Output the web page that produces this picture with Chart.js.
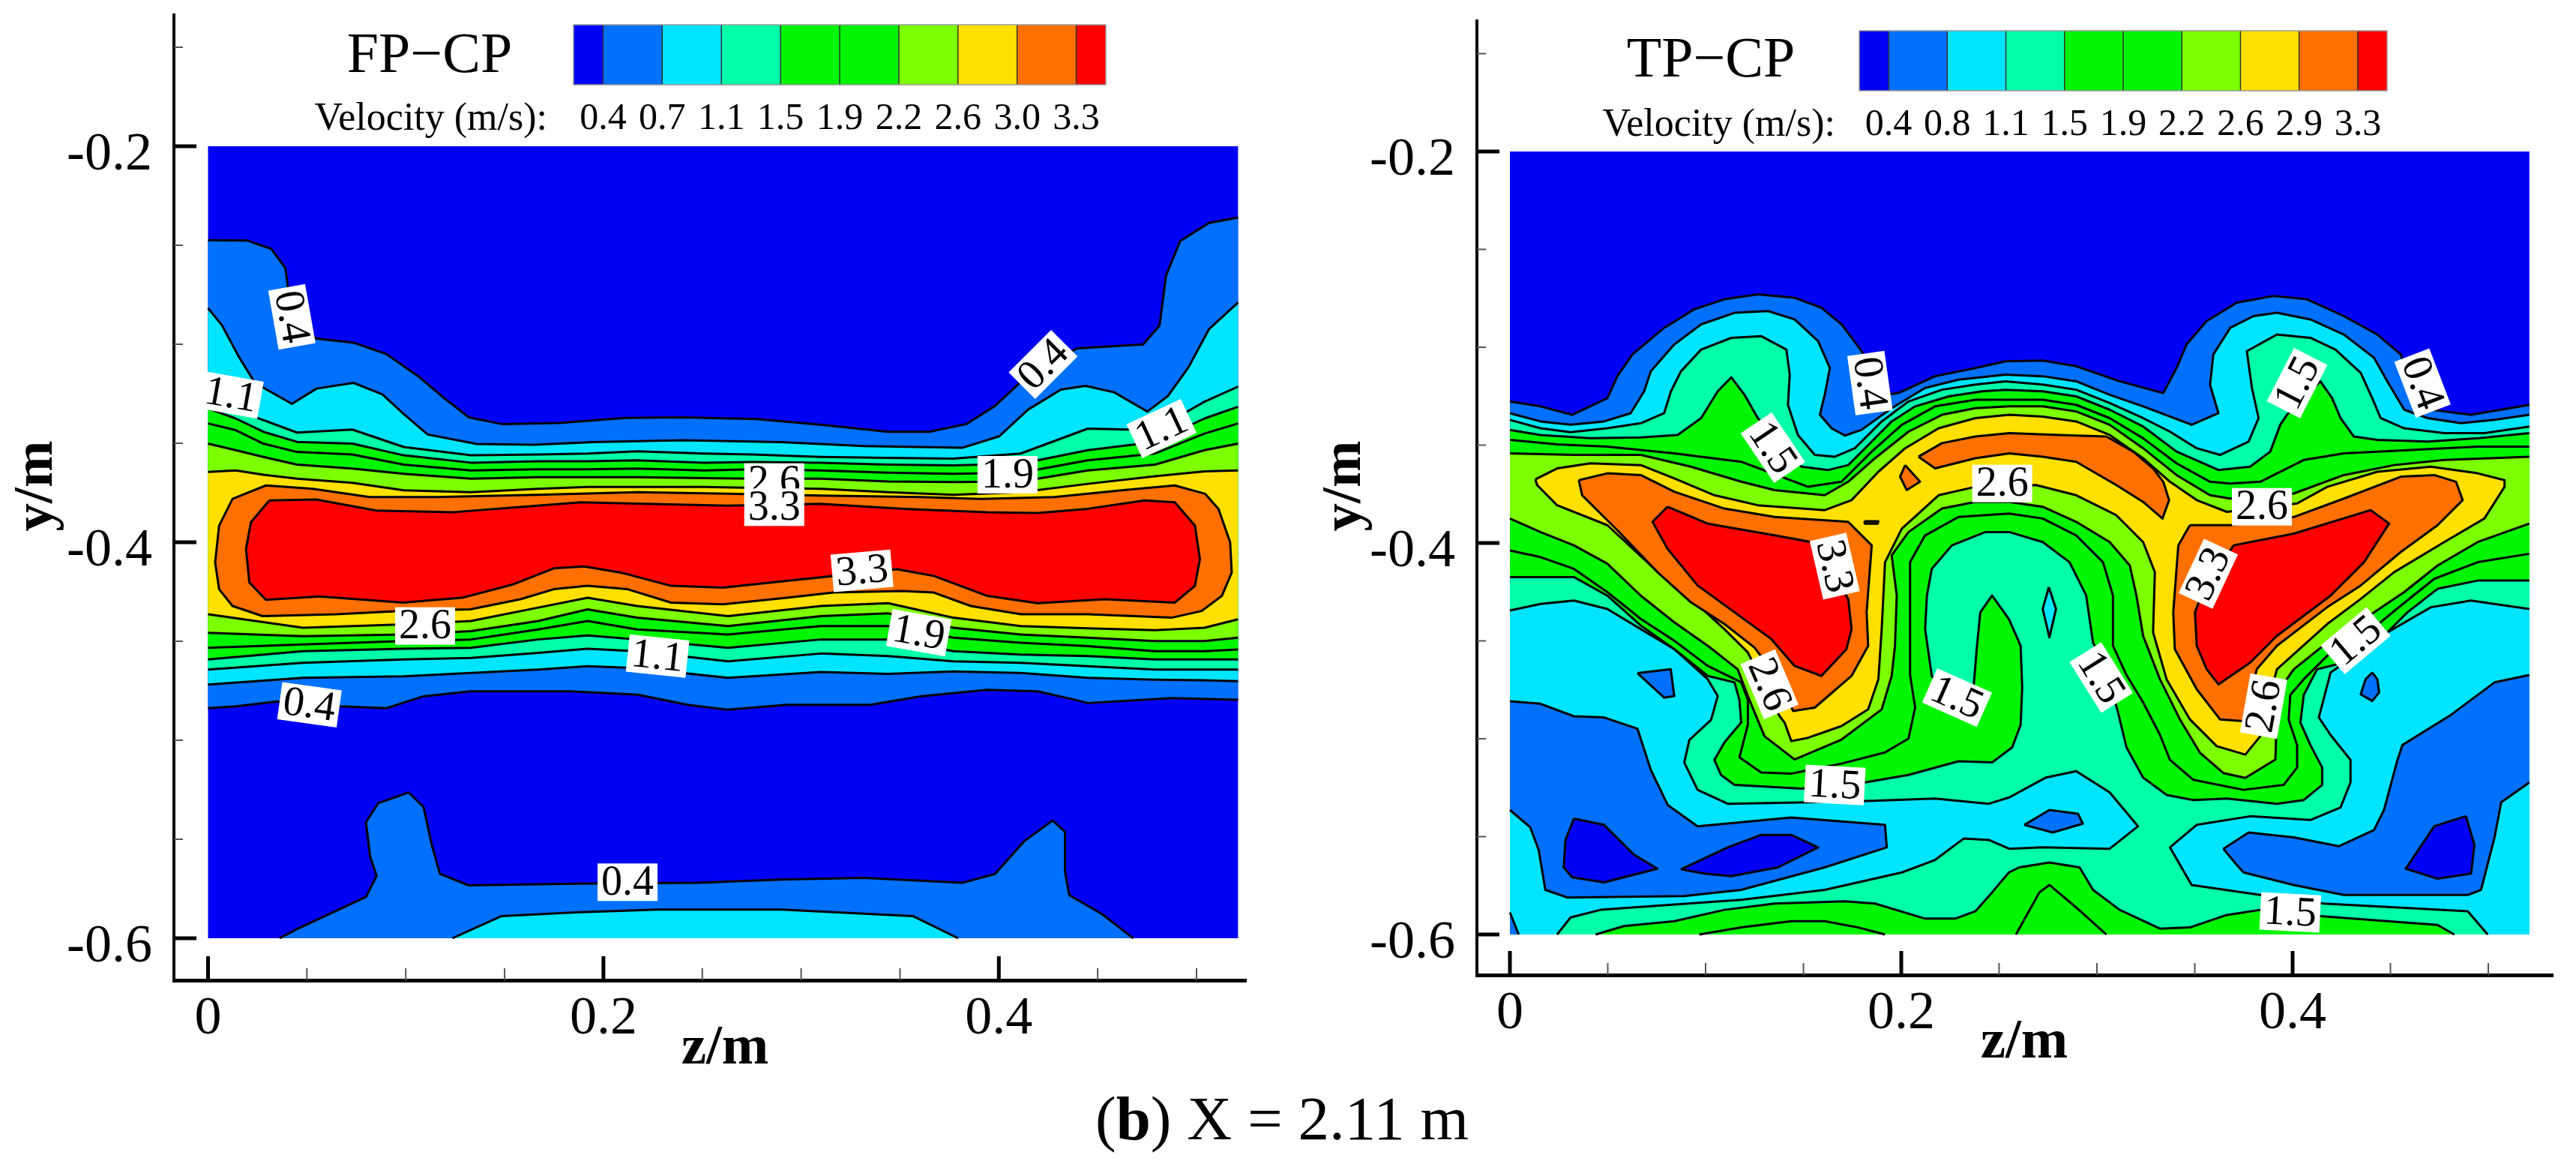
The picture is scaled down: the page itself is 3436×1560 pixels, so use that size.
<!DOCTYPE html>
<html>
<head>
<meta charset="utf-8">
<title>FP-CP / TP-CP velocity contours</title>
<script src="https://cdn.jsdelivr.net/npm/chart.js@4"></script>
<style>
html, body { margin: 0; padding: 0; background: #fff; }
canvas { position: absolute; top: 0; }
#caption { position: absolute; left: 0; top: 1450px; width: 3420px; text-align: center; font: 83px/1 "Liberation Serif", serif; color: #000; }
</style>
</head>
<body>
<canvas id="fpChart" width="1720" height="1440" style="left:0"></canvas>
<canvas id="tpChart" width="1716" height="1440" style="left:1720px"></canvas>
<div id="caption">(<b>b</b>) X = 2.11 m</div>
<script>
// axis ticks, both panels
const zTicks = [0, 0.2, 0.4];
const yTicks = [-0.6, -0.4, -0.2];
const zMinor = [0.05, 0.1, 0.15, 0.25, 0.3, 0.35, 0.45, 0.5];
const yMinor = [-0.55, -0.5, -0.45, -0.35, -0.3, -0.25, -0.15];

// band colours, below 0.4 up to above 3.3
const bandColors = ['#0000f5', '#0070ff', '#00e5ff', '#00ffa8', '#00f500', '#00f500', '#7cff00', '#ffe000', '#ff7000', '#ff0000'];
const fpLevels = ['0.4', '0.7', '1.1', '1.5', '1.9', '2.2', '2.6', '3.0', '3.3'];
const tpLevels = ['0.4', '0.8', '1.1', '1.5', '1.9', '2.2', '2.6', '2.9', '3.3'];

const plotEdge = [[0, -0.2], [0.521, -0.2], [0.521, -0.6], [0, -0.6]];

// ---- FP-CP panel, contours as [z, y] or y at shared z stations
const fpTop04 = [[0,-.2474],[.0196,-.2476],[.032,-.2518],[.0391,-.2615],[.0404,-.2711],[.0466,-.2905],[.0549,-.2972],[.0736,-.2992],[.0903,-.305],[.1069,-.3166],[.1194,-.3272],[.1319,-.3369],[.1485,-.3403],[.1776,-.3398],[.2109,-.3372],[.24,-.3369],[.2775,-.3378],[.3108,-.3407],[.344,-.3442],[.3648,-.3442],[.3836,-.3403],[.3981,-.3311],[.4106,-.3195],[.4252,-.3098],[.4397,-.3021],[.473,-.3001],[.4813,-.2905],[.4846,-.2653],[.4917,-.2479],[.5063,-.2387],[.521,-.236]];
const fpBottom04 = [[0,-.4838],[.0141,-.4829],[.0353,-.4804],[.0666,-.4829],[.0903,-.4838],[.1089,-.4778],[.1326,-.4753],[.1834,-.4753],[.2173,-.477],[.2427,-.4821],[.2627,-.4846],[.2927,-.4821],[.335,-.4821],[.3604,-.4778],[.3942,-.4745],[.4196,-.4753],[.4383,-.4795],[.445,-.4812],[.4874,-.4787],[.521,-.4795]];
const fpTop07 = [[0,-.2818],[.0071,-.2905],[.0154,-.306],[.0237,-.3195],[.0424,-.3301],[.0549,-.3224],[.0736,-.3195],[.0882,-.3253],[.0986,-.3349],[.1111,-.3456],[.136,-.3504],[.1652,-.3508],[.1943,-.3494],[.24,-.3485],[.29,-.3494],[.3316,-.3514],[.3815,-.3523],[.4002,-.3465],[.4148,-.333],[.4314,-.3229],[.4439,-.321],[.4584,-.3243],[.4751,-.334],[.4855,-.3262],[.4959,-.3117],[.5063,-.2924],[.521,-.2789]];

const fpUpperZ = [0,.014,.028,.045,.073,.099,.133,.167,.192,.217,.251,.276,.31,.344,.377,.411,.445,.479,.504,.521];
const fpUpper11 = [-.3299,-.3333,-.3383,-.3446,-.3431,-.3519,-.3561,-.3557,-.3552,-.3541,-.3552,-.3557,-.3569,-.3574,-.3578,-.3552,-.3426,-.3434,-.329,-.3214];
const fpUpper15 = [-.3324,-.3375,-.3442,-.3493,-.3502,-.3561,-.3598,-.3591,-.3591,-.3586,-.3598,-.3595,-.3598,-.3608,-.3612,-.3603,-.3535,-.3493,-.3375,-.3316];
const fpUpper19 = [-.34,-.3434,-.3502,-.3544,-.3557,-.3608,-.3637,-.3632,-.3632,-.3628,-.3637,-.3632,-.3637,-.3649,-.3654,-.3649,-.3586,-.3552,-.3451,-.34];
const fpUpper22 = [-.3502,-.3535,-.3569,-.3608,-.3628,-.3654,-.3679,-.3671,-.3671,-.3671,-.3676,-.3679,-.3679,-.3693,-.3696,-.3693,-.3637,-.3608,-.3535,-.3502];
const fpUpper26 = [-.3645,-.3637,-.3659,-.3679,-.37,-.3738,-.3747,-.373,-.3721,-.3721,-.3721,-.3725,-.373,-.3747,-.376,-.3747,-.3705,-.3667,-.3642,-.3637];

const fpLowerZ = [0,.048,.099,.133,.167,.192,.217,.263,.31,.344,.377,.411,.445,.479,.504,.521];
const fpLower07 = [-.4719,-.4685,-.4677,-.466,-.4643,-.4626,-.4635,-.4685,-.4655,-.4665,-.4652,-.466,-.4685,-.4694,-.4697,-.4702];
const fpLower11 = [-.4643,-.4609,-.4592,-.4584,-.4559,-.4538,-.455,-.4601,-.4562,-.4575,-.4601,-.4609,-.4626,-.4643,-.4643,-.4643];
const fpLower15 = [-.4592,-.455,-.4538,-.4533,-.4491,-.4471,-.4491,-.4533,-.4491,-.4491,-.455,-.4567,-.4575,-.4592,-.4592,-.4592];
const fpLower19 = [-.4533,-.4516,-.4499,-.4491,-.444,-.4398,-.444,-.4466,-.4423,-.4423,-.4482,-.4508,-.4525,-.455,-.455,-.4542];
const fpLower22 = [-.4457,-.4474,-.4466,-.4449,-.4398,-.4339,-.4381,-.4423,-.4373,-.4359,-.4432,-.4466,-.4482,-.4499,-.4499,-.4482];
const fpLower26 = [-.4364,-.4432,-.4415,-.4398,-.433,-.428,-.4322,-.4373,-.4322,-.4308,-.4381,-.4423,-.4435,-.4444,-.4432,-.4389];

const fpLoop30 = [[.0293,-.3713],[.053,-.373],[.0818,-.3772],[.1157,-.3772],[.1665,-.376],[.2173,-.3747],[.2626,-.3755],[.3096,-.3764],[.3604,-.3772],[.3909,-.3781],[.4281,-.3772],[.462,-.3738],[.489,-.3713],[.5043,-.3755],[.5111,-.3831],[.517,-.4],[.5178,-.4153],[.5128,-.4271],[.5026,-.4347],[.4874,-.4381],[.445,-.4364],[.4112,-.4364],[.3858,-.4322],[.3671,-.4254],[.3511,-.4246],[.3164,-.4254],[.2927,-.428],[.2605,-.4313],[.2342,-.4305],[.2122,-.4237],[.1919,-.422],[.1749,-.4237],[.158,-.4288],[.1326,-.4339],[.0987,-.4347],[.0649,-.4364],[.0276,-.4373],[.0124,-.4322],[.0056,-.4237],[.0036,-.4102],[.0056,-.3916],[.0124,-.3781]];
const fpLoop33 = [[.031,-.3789],[.0547,-.3784],[.0852,-.384],[.1241,-.3848],[.1665,-.3815],[.1885,-.3798],[.2626,-.3815],[.3096,-.3806],[.3519,-.3831],[.3942,-.3848],[.4196,-.3852],[.445,-.3831],[.4738,-.3789],[.489,-.3798],[.4992,-.3916],[.5017,-.4085],[.4992,-.422],[.489,-.4305],[.4535,-.4288],[.4196,-.4308],[.3942,-.4271],[.3671,-.417],[.3485,-.4136],[.3164,-.417],[.2927,-.4195],[.2605,-.4229],[.2342,-.422],[.2088,-.4153],[.1902,-.4122],[.1749,-.4132],[.1546,-.4212],[.1292,-.4279],[.0987,-.4305],[.0564,-.4274],[.0293,-.4291],[.0209,-.4203],[.0192,-.4034],[.0217,-.3899]];
const fpFloor04 = [[.0362,-.6],[.0445,-.5956],[.0612,-.5878],[.0799,-.5791],[.0853,-.5685],[.082,-.5588],[.0799,-.5414],[.0861,-.5318],[.1015,-.5264],[.109,-.5337],[.1132,-.553],[.1173,-.5675],[.1319,-.5733],[.186,-.5724],[.2484,-.572],[.29,-.5704],[.3316,-.5695],[.3815,-.572],[.3981,-.5675],[.4127,-.5511],[.4272,-.5405],[.4335,-.5463],[.4335,-.5666],[.4356,-.5782],[.4522,-.5878],[.468,-.6]];
const fpFloor07 = [[.1236,-.6],[.1485,-.5888],[.186,-.5869],[.2276,-.5855],[.29,-.5855],[.3565,-.5888],[.3794,-.6]];

// contour labels: z, y, text, rotation in degrees
const fpLabels = [
  [.0424,-.2862,'0.4',80],[.0116,-.3256,'1.1',10],[.1098,-.4423,'2.6',0],[.0513,-.4821,'0.4',8],
  [.2274,-.4575,'1.1',6],[.2122,-.5717,'0.4',0],[.2864,-.3696,'2.6',0],[.2864,-.3823,'3.3',0],
  [.3308,-.4144,'3.3',-5],[.4044,-.3659,'1.9',0],[.3595,-.4457,'1.9',10],[.4823,-.3426,'1.1',-25],[.4224,-.3102,'0.4',-45]
];

// ---- TP-CP panel
const tpTop04 = [[0,-.3277],[.0156,-.3302],[.0318,-.3345],[.0498,-.326],[.0549,-.3148],[.0626,-.3037],[.0788,-.2901],[.0942,-.2806],[.1096,-.2755],[.1267,-.273],[.1455,-.2747],[.1592,-.2798],[.1695,-.2883],[.1797,-.302],[.1849,-.314],[.1917,-.3243],[.1985,-.3234],[.2173,-.3148],[.2379,-.3106],[.2533,-.3072],[.2723,-.3068],[.2894,-.3097],[.3116,-.3174],[.3339,-.3234],[.3407,-.3106],[.3458,-.2986],[.3561,-.2866],[.3715,-.2772],[.3903,-.2738],[.4074,-.2755],[.4262,-.2841],[.4433,-.2935],[.4553,-.3037],[.4587,-.3157],[.4655,-.3311],[.4775,-.3328],[.4912,-.3345],[.5066,-.3319],[.521,-.3294]];
const tpTop07 = [[0,-.3337],[.0156,-.3379],[.031,-.3396],[.0481,-.3379],[.0617,-.3337],[.0686,-.3225],[.072,-.3123],[.084,-.2986],[.0977,-.2883],[.1148,-.2824],[.1319,-.2815],[.1455,-.2858],[.1575,-.2969],[.1635,-.3106],[.1609,-.3243],[.1584,-.3345],[.1644,-.3414],[.1712,-.3451],[.1797,-.3422],[.1951,-.3311],[.2122,-.3208],[.2293,-.3166],[.2533,-.314],[.2723,-.3148],[.2894,-.3174],[.3065,-.3243],[.3236,-.3302],[.3373,-.3354],[.3484,-.3396],[.3621,-.3337],[.3578,-.3191],[.3595,-.3037],[.3681,-.2901],[.38,-.2841],[.392,-.2824],[.4091,-.2858],[.4262,-.2935],[.4416,-.3054],[.4484,-.3174],[.457,-.3319],[.469,-.3362],[.4861,-.3388],[.5032,-.3371],[.521,-.3345]];
const tpTop11 = [[0,-.3371],[.0156,-.3414],[.031,-.3434],[.0498,-.3414],[.0669,-.3388],[.0788,-.3337],[.0823,-.3225],[.0874,-.3123],[.0977,-.3012],[.1131,-.2952],[.1284,-.2943],[.1413,-.3012],[.143,-.314],[.1421,-.3294],[.1472,-.3448],[.1558,-.355],[.1661,-.3559],[.1763,-.3516],[.19,-.3379],[.2037,-.3277],[.2208,-.3217],[.2379,-.3191],[.2533,-.3174],[.2723,-.3191],[.2894,-.3217],[.3065,-.3285],[.3236,-.3362],[.3373,-.3431],[.351,-.3516],[.3629,-.355],[.3775,-.3482],[.3826,-.3362],[.3792,-.3208],[.3766,-.302],[.392,-.2935],[.4091,-.2952],[.4219,-.3012],[.4348,-.3131],[.4407,-.326],[.445,-.3362],[.457,-.3414],[.4775,-.3439],[.498,-.3439],[.521,-.3405]];
const tpLake11Left = [[0,-.4345],[.0156,-.4311],[.0327,-.4294],[.0498,-.4337],[.0669,-.444],[.084,-.4542],[.1011,-.4696],[.1062,-.4782],[.1028,-.4904],[.0917,-.5006],[.0891,-.5121],[.0959,-.5261],[.1113,-.5332],[.1524,-.5325],[.1797,-.5319],[.2173,-.5306],[.2447,-.5332],[.2552,-.53],[.274,-.5198],[.2894,-.5166],[.3065,-.5274],[.321,-.5447],[.3065,-.5562],[.2723,-.5555],[.2552,-.5562],[.2447,-.5517],[.2319,-.551],[.2173,-.5619],[.2003,-.5683],[.1609,-.5772],[.1182,-.5823],[.0463,-.5874],[.031,-.5913],[.0241,-.6],[0,-.6]];
const tpLake11Right = [[.521,-.4337],[.4912,-.4294],[.4707,-.4328],[.4484,-.4457],[.4194,-.4662],[.4134,-.4891],[.4194,-.4981],[.4296,-.5108],[.4296,-.5223],[.4245,-.5351],[.4091,-.5415],[.3783,-.5396],[.351,-.544],[.3373,-.5555],[.3484,-.5747],[.3835,-.5798],[.4159,-.5842],[.4895,-.5881],[.4997,-.6],[.521,-.6]];
const tpLake07Left = [[0,-.4808],[.0156,-.4821],[.0327,-.4885],[.0481,-.4891],[.0652,-.4949],[.072,-.5159],[.0806,-.5338],[.0959,-.5447],[.1438,-.5402],[.1917,-.544],[.1926,-.5555],[.1609,-.5657],[.1182,-.5772],[.0891,-.5804],[.0293,-.5811],[.0181,-.5772],[.0147,-.5568],[.0104,-.5453],[0,-.5364]];
const tpCorner07 = [[0,-.5887],[.0045,-.6],[0,-.6]];
const tpLake07Right = [[.3646,-.5562],[.3775,-.5479],[.4006,-.5504],[.4236,-.5549],[.4416,-.5466],[.4467,-.5364],[.4536,-.5108],[.4561,-.5032],[.4809,-.4878],[.5032,-.4712],[.521,-.4674],[.521,-.5223],[.5066,-.5325],[.5032,-.5504],[.4963,-.5772],[.4895,-.5798],[.4262,-.5798],[.4006,-.5747],[.3749,-.5683],[.3715,-.5645]];
const tpIsleLeft07 = [[.0652,-.4665],[.0822,-.4645],[.084,-.4782],[.0788,-.479]];
const tpIsleCenter07 = [[.2629,-.544],[.2757,-.5364],[.2903,-.5383],[.2928,-.5434],[.2774,-.5479]];
const tpIsleRight07 = [[.4407,-.4662],[.4433,-.4696],[.4442,-.4764],[.4407,-.4807],[.4348,-.4773],[.4373,-.4696]];
const tpIsleCenter11 = [[.2754,-.4226],[.2791,-.4337],[.2757,-.4482],[.2723,-.4337]];
const tpCoreA04 = [[.0327,-.5408],[.0481,-.544],[.0635,-.5593],[.0754,-.5664],[.0481,-.5734],[.0318,-.5708],[.0275,-.5657],[.0284,-.5517]];
const tpCoreB04 = [[.0874,-.5667],[.1113,-.5555],[.1284,-.5491],[.1438,-.5491],[.1575,-.5555],[.137,-.5657],[.113,-.5702],[.0994,-.5689]];
const tpCoreC04 = [[.4886,-.5395],[.4929,-.5542],[.4912,-.5689],[.4741,-.5715],[.4578,-.5664],[.4724,-.5447]];
const tpFloor15 = [[.0438,-.6],[.0583,-.5957],[.084,-.5932],[.1096,-.5874],[.1353,-.5842],[.1712,-.583],[.1866,-.5842],[.2122,-.5919],[.2276,-.5919],[.2379,-.5881],[.2464,-.5785],[.255,-.5683],[.2603,-.5657],[.2757,-.5632],[.2911,-.5657],[.298,-.5772],[.3116,-.5874],[.3322,-.597],[.3475,-.5964],[.3664,-.59],[.3835,-.5874],[.4142,-.5906],[.4741,-.5951],[.4826,-.6]];
const tpFloorA19 = [[.0968,-.6],[.1182,-.5964],[.1438,-.5932],[.1609,-.5932],[.178,-.5964],[.1917,-.6]];
const tpFloorB19 = [[.2586,-.6],[.2706,-.5785],[.2757,-.5747],[.2894,-.5862],[.3048,-.6]];
const tpMain15 = [[0,-.3422],[.0156,-.3448],[.0412,-.3465],[.0669,-.3461],[.0857,-.3448],[.0977,-.3362],[.1062,-.3225],[.1131,-.3154],[.1199,-.3243],[.1267,-.3362],[.149,-.361],[.1627,-.3627],[.1729,-.3602],[.1849,-.3482],[.1951,-.3379],[.2071,-.3302],[.2242,-.3251],[.2413,-.3225],[.2533,-.3217],[.2723,-.3225],[.2894,-.3251],[.3065,-.3319],[.3236,-.3405],[.3407,-.3533],[.3621,-.3627],[.3783,-.361],[.3886,-.3533],[.3937,-.3396],[.3971,-.3345],[.4142,-.3174],[.4202,-.326],[.4245,-.3362],[.4313,-.3456],[.4433,-.3473],[.469,-.3482],[.4946,-.3465],[.521,-.3439],[.521,-.4192],[.4946,-.4192],[.4741,-.4234],[.4587,-.4354],[.4484,-.4457],[.4262,-.4611],[.4125,-.4645],[.4057,-.4776],[.404,-.4917],[.4091,-.5032],[.4151,-.5147],[.4151,-.5236],[.4057,-.5313],[.392,-.5332],[.3664,-.5306],[.3493,-.5313],[.3356,-.5287],[.3236,-.5198],[.3151,-.5044],[.3108,-.4866],[.3048,-.4645],[.298,-.4508],[.2945,-.4268],[.286,-.4098],[.2723,-.3995],[.2552,-.3944],[.243,-.3944],[.2259,-.4012],[.2156,-.4132],[.2131,-.4269],[.2122,-.444],[.2156,-.4679],[.2259,-.4799],[.237,-.473],[.2387,-.4525],[.2404,-.4354],[.2464,-.4269],[.255,-.4388],[.261,-.4525],[.2618,-.4737],[.261,-.4929],[.2567,-.5044],[.2464,-.5121],[.2293,-.5115],[.2037,-.5185],[.1814,-.5223],[.149,-.5255],[.1148,-.5236],[.1079,-.5185],[.1045,-.5108],[.1096,-.5019],[.1182,-.4917],[.1173,-.4802],[.1148,-.4712],[.1011,-.4679],[.084,-.4542],[.0669,-.4422],[.0498,-.4269],[.0327,-.4174],[0,-.4174]];
const tpMain19 = [[0,-.3473],[.0241,-.3496],[.0498,-.3508],[.084,-.3542],[.1182,-.3585],[.1319,-.3636],[.1524,-.3713],[.1695,-.3687],[.1849,-.3533],[.2003,-.3396],[.2173,-.3302],[.2379,-.3268],[.2552,-.3268],[.2723,-.3268],[.2894,-.3294],[.3065,-.3362],[.3236,-.3465],[.3407,-.3593],[.3578,-.3687],[.3681,-.3696],[.3835,-.3687],[.4057,-.3576],[.4262,-.3542],[.4604,-.3525],[.4946,-.3508],[.521,-.3508],[.521,-.4055],[.4946,-.4098],[.4724,-.4183],[.4553,-.432],[.445,-.4405],[.4177,-.4576],[.4057,-.4696],[.3988,-.4776],[.398,-.4904],[.4023,-.5032],[.4023,-.5147],[.3954,-.5236],[.3749,-.5261],[.3493,-.521],[.3373,-.5108],[.3322,-.498],[.3236,-.4814],[.3151,-.4674],[.3082,-.4525],[.3082,-.4269],[.3031,-.4098],[.2894,-.3961],[.2723,-.3875],[.2552,-.385],[.2293,-.3867],[.2122,-.3961],[.2045,-.4098],[.2045,-.4354],[.2045,-.4674],[.2071,-.484],[.2037,-.4999],[.1917,-.507],[.1695,-.5127],[.1438,-.5178],[.1284,-.5172],[.1173,-.5095],[.1216,-.4929],[.1216,-.4802],[.1182,-.4711],[.1011,-.4628],[.084,-.4499],[.0669,-.4388],[.0498,-.4251],[.0327,-.4132],[.0156,-.4072],[0,-.4038]];
const tpMain22 = [[0,-.3542],[.0327,-.355],[.0669,-.355],[.0925,-.361],[.1182,-.3687],[.1353,-.373],[.1609,-.3756],[.1729,-.3687],[.1866,-.3567],[.2037,-.3431],[.2208,-.3345],[.2379,-.3311],[.2552,-.3302],[.2723,-.3302],[.2894,-.3328],[.3065,-.3396],[.3236,-.3516],[.3407,-.3653],[.3578,-.3756],[.3681,-.3773],[.4006,-.3747],[.4262,-.3653],[.4519,-.3602],[.4775,-.3576],[.521,-.3559],[.521,-.3901],[.4946,-.3995],[.4741,-.4115],[.457,-.4251],[.4416,-.4354],[.4177,-.4508],[.4006,-.4645],[.3946,-.473],[.392,-.4867],[.3912,-.5106],[.3758,-.52],[.3646,-.5175],[.3527,-.5072],[.3424,-.4901],[.3322,-.4696],[.3236,-.4474],[.3202,-.4269],[.3168,-.4115],[.3065,-.3995],[.2894,-.3892],[.2723,-.3815],[.2552,-.379],[.2379,-.379],[.2208,-.3824],[.2037,-.3944],[.1951,-.4063],[.1977,-.4268],[.1968,-.4525],[.1951,-.4679],[.19,-.485],[.1695,-.5004],[.1455,-.5106],[.1301,-.4987],[.1216,-.4782],[.1164,-.4645],[.1011,-.4525],[.084,-.4405],[.0669,-.4269],[.0498,-.4106],[.0327,-.4012],[.0156,-.3944],[0,-.3875]];
const tpMain26 = [[.013,-.3675],[.0241,-.3619],[.0412,-.3593],[.0669,-.3602],[.084,-.367],[.1045,-.3756],[.1267,-.3807],[.1609,-.3832],[.1746,-.3781],[.1883,-.3636],[.202,-.3516],[.2191,-.3414],[.2379,-.3362],[.2552,-.3345],[.2723,-.3354],[.2894,-.3379],[.3065,-.3448],[.3236,-.3567],[.3373,-.3687],[.351,-.3781],[.3664,-.3841],[.4023,-.3798],[.4177,-.3713],[.4433,-.3636],[.4707,-.361],[.4946,-.3644],[.5083,-.3679],[.5083,-.3713],[.498,-.3875],[.4775,-.3995],[.4519,-.4149],[.4348,-.4286],[.4177,-.4414],[.392,-.4645],[.3869,-.4833],[.3835,-.4987],[.3758,-.5081],[.3612,-.5038],[.3475,-.4901],[.3356,-.4696],[.3287,-.4457],[.3296,-.4149],[.3236,-.3995],[.3099,-.3858],[.2894,-.3756],[.2689,-.3704],[.2379,-.3713],[.2191,-.3756],[.2003,-.3927],[.1917,-.4098],[.19,-.444],[.1883,-.4696],[.1831,-.485],[.1695,-.4935],[.1524,-.4995],[.1438,-.5012],[.1404,-.4918],[.1378,-.4884],[.1216,-.4559],[.1096,-.444],[.0908,-.4268],[.072,-.4115],[.0498,-.3909],[.0241,-.3807],[.0139,-.3704]];
const tpCenter30 = [[.2088,-.3559],[.2208,-.349],[.2379,-.3456],[.2552,-.3439],[.2809,-.3448],[.3048,-.3456],[.3185,-.3533],[.3287,-.3619],[.3339,-.3687],[.3369,-.3781],[.3335,-.3875],[.3236,-.379],[.3099,-.3704],[.2894,-.3585],[.2723,-.3559],[.2552,-.3542],[.2379,-.3567],[.2173,-.3619]];
const tpIsle30 = [[.202,-.3602],[.2096,-.3687],[.2028,-.373],[.1994,-.3661]];
const tpSpeck30 = [[.1811,-.3889],[.1883,-.3889],[.188,-.3901],[.1814,-.3901]];
const tpLeft30 = [[.0352,-.3679],[.0498,-.3644],[.0669,-.3653],[.084,-.3738],[.1096,-.3824],[.1353,-.3867],[.1729,-.3892],[.1849,-.4012],[.1823,-.4354],[.1831,-.4525],[.1746,-.4679],[.1558,-.4841],[.1447,-.4858],[.137,-.4696],[.125,-.4534],[.1096,-.4414],[.0925,-.4303],[.0754,-.4149],[.0549,-.3935],[.0369,-.3756]];
const tpRight30 = [[.3475,-.3909],[.3681,-.3909],[.4006,-.3867],[.4262,-.3773],[.4553,-.3661],[.4724,-.3653],[.4835,-.3687],[.4869,-.3781],[.4741,-.3909],[.4553,-.4046],[.4348,-.4217],[.4177,-.4328],[.392,-.4525],[.3817,-.4645],[.3749,-.491],[.3629,-.4901],[.351,-.4747],[.3398,-.4542],[.339,-.4354],[.3416,-.4012]];
const tpLeft33 = [[.0805,-.3815],[.1011,-.3901],[.1353,-.3961],[.1541,-.3995],[.1626,-.4115],[.1729,-.4286],[.1746,-.444],[.172,-.4542],[.1592,-.4679],[.1455,-.4628],[.1336,-.4491],[.1148,-.4354],[.0959,-.4217],[.0805,-.4029],[.0729,-.3892]];
const tpRight33 = [[.3698,-.4012],[.4006,-.3952],[.4399,-.3832],[.4493,-.3901],[.4365,-.4098],[.4194,-.4269],[.392,-.4474],[.3783,-.4611],[.3621,-.4722],[.3561,-.4645],[.351,-.4525],[.3501,-.4354],[.3527,-.4286],[.3612,-.4149]];

const tpLabels = [
  [.184,-.3183,'0.4',82],[.1344,-.3513,'1.5',56],[.2516,-.3696,'2.6',0],[.166,-.4118,'3.3',77],
  [.1327,-.4722,'2.6',67],[.2285,-.479,'1.5',24],[.166,-.5236,'1.5',3],[.3843,-.3815,'2.6',0],
  [.4023,-.3183,'1.5',-63],[.4664,-.3183,'0.4',69],[.3569,-.4157,'3.3',-65],[.3852,-.4833,'2.6',-80],
  [.3022,-.4687,'1.5',58],[.4322,-.4499,'1.5',-40],[.3988,-.5887,'1.5',3]
];

function stations(zs, ys) {
  return zs.map(function (z, i) { return [z, ys[i]]; });
}

// closed region between an upper curve and a lower curve
function between(upper, lower) {
  return upper.concat(lower.slice().reverse());
}

function closedToFloor(top) {
  return top.concat([[0.521, -0.6], [0, -0.6]]);
}

function onEdge(a, b) {
  return (a.x <= 0.0001 && b.x <= 0.0001) || (a.x >= 0.5209 && b.x >= 0.5209) ||
    (a.y <= -0.5999 && b.y <= -0.5999) || (a.y >= -0.2001 && b.y >= -0.2001);
}

// one region is two datasets: the flat fill, then its contour line.
// a styled segment would split the fill, so they stay separate
function region(pairs, band) {
  const points = pairs.map(function (p) { return { x: p[0], y: p[1] }; });
  points.push(points[0]);
  const base = { data: points, showLine: true, tension: 0, pointRadius: 0 };
  return [
    Object.assign({}, base, { fill: 'shape', backgroundColor: bandColors[band], borderWidth: 0 }),
    Object.assign({}, base, {
      fill: false,
      borderColor: '#000',
      borderWidth: 3,
      borderJoinStyle: 'round',
      segment: {
        // no outline where a region just stops at the edge of the plot
        borderColor: function (ctx) {
          return onEdge(ctx.p0.parsed, ctx.p1.parsed) ? 'rgba(0,0,0,0)' : '#000';
        }
      }
    })
  ];
}

const fpRegions = [
  region(plotEdge, 0),
  region(fpFloor04, 1),
  region(fpFloor07, 2),
  region(between(fpTop04, fpBottom04), 1),
  region(between(fpTop07, stations(fpLowerZ, fpLower07)), 2),
  region(between(stations(fpUpperZ, fpUpper11), stations(fpLowerZ, fpLower11)), 3),
  region(between(stations(fpUpperZ, fpUpper15), stations(fpLowerZ, fpLower15)), 4),
  region(between(stations(fpUpperZ, fpUpper19), stations(fpLowerZ, fpLower19)), 5),
  region(between(stations(fpUpperZ, fpUpper22), stations(fpLowerZ, fpLower22)), 6),
  region(between(stations(fpUpperZ, fpUpper26), stations(fpLowerZ, fpLower26)), 7),
  region(fpLoop30, 8),
  region(fpLoop33, 9)
].flat();

const tpRegions = [
  region(plotEdge, 0),
  region(closedToFloor(tpTop04), 1),
  region(closedToFloor(tpTop07), 2),
  region(closedToFloor(tpTop11), 3),
  region(tpLake11Left, 2),
  region(tpLake11Right, 2),
  region(tpIsleCenter11, 2),
  region(tpLake07Left, 1),
  region(tpCorner07, 1),
  region(tpLake07Right, 1),
  region(tpIsleLeft07, 1),
  region(tpIsleCenter07, 1),
  region(tpIsleRight07, 1),
  region(tpCoreA04, 0),
  region(tpCoreB04, 0),
  region(tpCoreC04, 0),
  region(tpFloor15, 4),
  region(tpFloorA19, 5),
  region(tpFloorB19, 5),
  region(tpMain15, 4),
  region(tpMain19, 5),
  region(tpMain22, 6),
  region(tpMain26, 7),
  region(tpCenter30, 8),
  region(tpIsle30, 8),
  region(tpSpeck30, 8),
  region(tpLeft30, 8),
  region(tpRight30, 8),
  region(tpLeft33, 9),
  region(tpRight33, 9)
].flat();

const serif = '"Liberation Serif", serif';

function drawTicks(chart) {
  const ctx = chart.ctx, xs = chart.scales.x, ys = chart.scales.y;
  const left = chart.chartArea.left, bottom = chart.chartArea.bottom;
  ctx.save();
  ctx.strokeStyle = '#000';
  ctx.lineWidth = 5;
  zTicks.forEach(function (v) {
    const x = xs.getPixelForValue(v);
    ctx.beginPath(); ctx.moveTo(x, bottom); ctx.lineTo(x, bottom - 32); ctx.stroke();
  });
  yTicks.forEach(function (v) {
    const y = ys.getPixelForValue(v);
    ctx.beginPath(); ctx.moveTo(left, y); ctx.lineTo(left + 30, y); ctx.stroke();
  });
  ctx.strokeStyle = '#555';
  ctx.lineWidth = 2;
  zMinor.forEach(function (v) {
    const x = xs.getPixelForValue(v);
    ctx.beginPath(); ctx.moveTo(x, bottom); ctx.lineTo(x, bottom - 16); ctx.stroke();
  });
  yMinor.forEach(function (v) {
    const y = ys.getPixelForValue(v);
    ctx.beginPath(); ctx.moveTo(left, y); ctx.lineTo(left + 12, y); ctx.stroke();
  });
  ctx.restore();
}

function drawLabels(chart, labels) {
  const ctx = chart.ctx;
  ctx.save();
  ctx.textAlign = 'center';
  ctx.textBaseline = 'middle';
  ctx.font = '56px ' + serif;
  labels.forEach(function (l) {
    ctx.save();
    ctx.translate(chart.scales.x.getPixelForValue(l[0]), chart.scales.y.getPixelForValue(l[1]));
    ctx.rotate(l[3] * Math.PI / 180);
    ctx.fillStyle = '#fff';
    ctx.fillRect(-40, -25, 80, 50);
    ctx.fillStyle = '#000';
    ctx.fillText(l[2], 0, 2);
    ctx.restore();
  });
  ctx.restore();
}

function drawColorBar(chart, o) {
  const ctx = chart.ctx, step = o.bar.w / 9;
  ctx.save();
  let x = o.bar.x;
  bandColors.forEach(function (c, i) {
    const w = (i === 0 || i === 9) ? step / 2 : step;
    ctx.fillStyle = c;
    ctx.fillRect(x, o.bar.y, w, o.bar.h);
    x += w;
  });
  ctx.strokeStyle = '#333';
  ctx.lineWidth = 1.5;
  o.levels.forEach(function (lv, i) {
    const lx = o.bar.x + (i + 0.5) * step;
    ctx.beginPath(); ctx.moveTo(lx, o.bar.y); ctx.lineTo(lx, o.bar.y + o.bar.h); ctx.stroke();
  });
  ctx.strokeStyle = '#999';
  ctx.strokeRect(o.bar.x, o.bar.y, o.bar.w, o.bar.h);
  ctx.fillStyle = '#000';
  ctx.textBaseline = 'middle';
  ctx.textAlign = 'center';
  ctx.font = '50px ' + serif;
  o.levels.forEach(function (lv, i) {
    ctx.fillText(lv, o.bar.x + (i + 0.5) * step, o.levelY);
  });
  ctx.textAlign = 'right';
  ctx.font = '52px ' + serif;
  ctx.fillText('Velocity (m/s):', o.velocityRight, o.levelY);
  ctx.textAlign = 'center';
  ctx.font = '76px ' + serif;
  ctx.fillText(o.title, o.titleX, o.titleY);
  // axis names
  ctx.font = 'bold 75px ' + serif;
  ctx.textBaseline = 'alphabetic';
  ctx.fillText('z/m', o.zNameX, o.zNameY);
  ctx.translate(o.yNameX, 648);
  ctx.rotate(-Math.PI / 2);
  ctx.textBaseline = 'middle';
  ctx.fillText('y/m', 0, 0);
  ctx.restore();
}

const overlayPlugin = {
  id: 'overlay',
  afterDatasetsDraw: function (chart, args, o) {
    drawTicks(chart);
    drawLabels(chart, o.labels);
    drawColorBar(chart, o);
  }
};

function makePanel(id, regions, axis, overlay) {
  return new Chart(document.getElementById(id), {
    type: 'scatter',
    // the library paints the first dataset last, regions are listed bottom up
    data: { datasets: regions.slice().reverse() },
    plugins: [overlayPlugin],
    options: {
      responsive: false,
      animation: false,
      layout: { padding: { left: 0, top: axis.top, right: axis.right, bottom: 0 } },
      plugins: { legend: { display: false }, tooltip: { enabled: false }, overlay: overlay },
      scales: {
        x: {
          type: 'linear',
          min: axis.zMin,
          max: axis.zMax,
          afterFit: function (s) { s.height = axis.xHeight; s.paddingLeft = 0; s.paddingRight = 0; },
          afterBuildTicks: function (s) { s.ticks = zTicks.map(function (v) { return { value: v }; }); },
          grid: { display: false, drawTicks: false },
          border: { display: true, color: '#000', width: 5 },
          ticks: {
            autoSkip: false, maxRotation: 0, padding: 9, color: '#000',
            font: { family: 'Liberation Serif', size: 72 },
            callback: function (v) { return v === 0 ? '0' : v.toFixed(1); }
          }
        },
        y: {
          type: 'linear',
          min: axis.yMin,
          max: axis.yMax,
          afterFit: function (s) { s.width = axis.yWidth; s.paddingTop = 0; s.paddingBottom = 0; },
          afterBuildTicks: function (s) { s.ticks = yTicks.map(function (v) { return { value: v }; }); },
          grid: { display: false, drawTicks: false },
          border: { display: true, color: '#000', width: 4 },
          ticks: {
            autoSkip: false, padding: 29, labelOffset: 12, color: '#000',
            font: { family: 'Liberation Serif', size: 72 },
            callback: function (v) { return v.toFixed(1); }
          }
        }
      }
    }
  });
}

makePanel('fpChart', fpRegions,
  { top: 20, right: 58, xHeight: 133, yWidth: 232, zMin: -0.01725, zMax: 0.52503, yMin: -0.62121, yMax: -0.13371 },
  { labels: fpLabels, levels: fpLevels, bar: { x: 765, y: 33, w: 710, h: 80 }, levelY: 159, velocityRight: 730,
    title: 'FP\u2212CP', titleX: 573, titleY: 76, zNameX: 967, zNameY: 1418, yNameX: 50 });

makePanel('tpChart', tpRegions,
  { top: 28, right: 31, xHeight: 140, yWidth: 250, zMin: -0.01686, zMax: 0.53295, yMin: -0.62069, yMax: -0.13333 },
  { labels: tpLabels, levels: tpLevels, bar: { x: 760, y: 41, w: 704, h: 80 }, levelY: 167, velocityRight: 728,
    title: 'TP\u2212CP', titleX: 562, titleY: 82, zNameX: 980, zNameY: 1410, yNameX: 75 });
</script>
</body>
</html>
